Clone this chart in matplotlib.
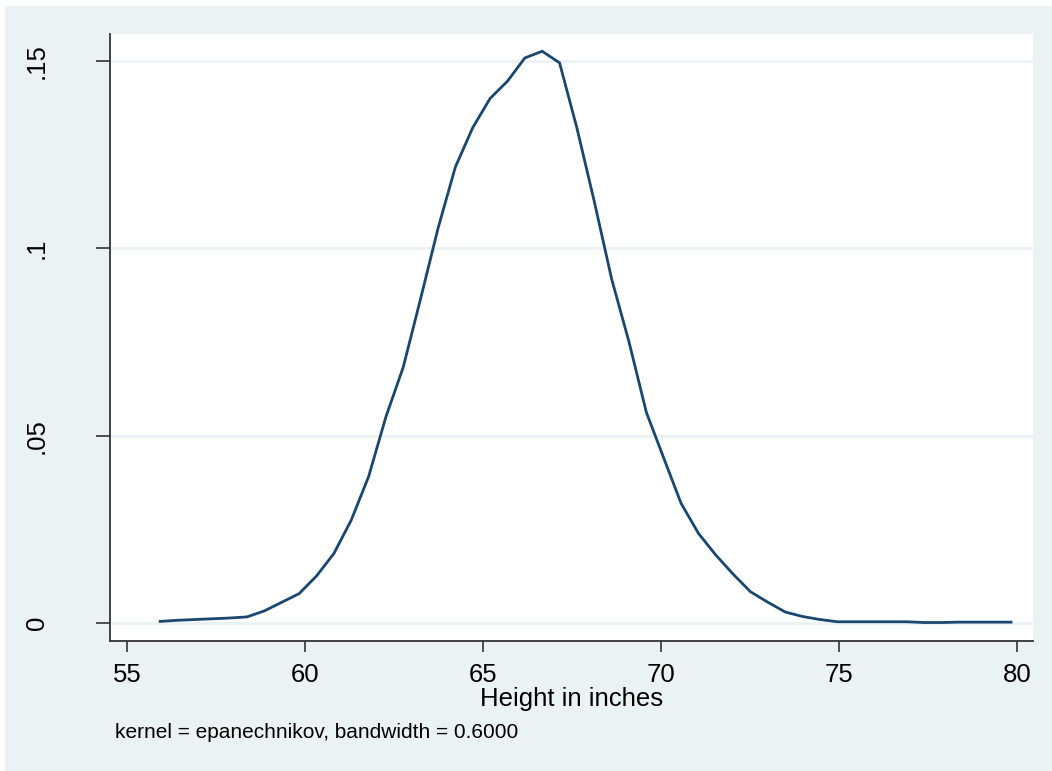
import numpy as np
import matplotlib.pyplot as plt
from matplotlib.patches import Rectangle

# kdensity of height, 50 evaluation points
x_start = 55.93
x_step = 0.4878
density = [
    0.0004, 0.0007, 0.0009, 0.0011, 0.0013, 0.0016, 0.0032, 0.0055, 0.0078, 0.0125,
    0.0185, 0.0274, 0.0390, 0.0550, 0.0683, 0.0866, 0.1053, 0.1217, 0.1322, 0.1400,
    0.1446, 0.1508, 0.1526, 0.1495, 0.1321, 0.1125, 0.0918, 0.0750, 0.0562, 0.0440,
    0.0319, 0.0239, 0.0181, 0.0130, 0.0083, 0.0055, 0.0029, 0.0017, 0.0009, 0.0003,
    0.0003, 0.0003, 0.0003, 0.0003, 0.0001, 0.0001, 0.0002, 0.0002, 0.0002, 0.0002,
]
height = x_start + x_step * np.arange(len(density))

xticks = [55, 60, 65, 70, 75, 80]
yticks = [0, 0.05, 0.1, 0.15]
ytick_labels = ["0", ".05", ".1", ".15"]
note = "kernel = epanechnikov, bandwidth = 0.6000"

bg = "#EAF2F3"
navy = "#1A476F"

plt.rcParams["font.family"] = ["Liberation Sans", "DejaVu Sans"]

W, H = 1052, 771
fig = plt.figure(figsize=(W / 100, H / 100), dpi=100, facecolor=bg)
# thin white strips at top and left, as in the exported graph
fig.patches.append(Rectangle((0, 1 - 6 / H), 1, 6 / H, transform=fig.transFigure,
                             facecolor="white", edgecolor="none", zorder=-10))
fig.patches.append(Rectangle((0, 0), 5 / W, 1, transform=fig.transFigure,
                             facecolor="white", edgecolor="none", zorder=-10))

left, right, top, bottom = 110, 1033, 34, 640.5
ax = fig.add_axes([left / W, 1 - bottom / H, (right - left) / W, (bottom - top) / H])
ax.set_facecolor("white")

ax.plot(height, density, color=navy, lw=2.0, solid_joinstyle="miter")

ax.set_xlim(54.52, 80.45)
ax.set_ylim(-0.0047, 0.1572)
ax.set_xticks(xticks)
ax.set_yticks(yticks)
ax.set_yticklabels(ytick_labels)

ax.grid(axis="y", color=bg, lw=2.0)
ax.set_axisbelow(True)

for s in ["top", "right"]:
    ax.spines[s].set_visible(False)
for s in ["left", "bottom"]:
    ax.spines[s].set_color("#333333")
    ax.spines[s].set_linewidth(1.3)

ax.tick_params(axis="x", length=8, width=1.2, color="#333333", labelsize=18.5, pad=8)
ax.tick_params(axis="y", length=10, width=1.2, color="#333333", labelsize=18.5,
               pad=34, labelrotation=90)
for lab in ax.get_yticklabels():
    lab.set_va("center")

ax.set_xlabel("Height in inches", fontsize=18.5, labelpad=0)
fig.text(115 / W, 1 - 733 / H, note, fontsize=15, va="center", ha="left")

fig.savefig("out.png", dpi=100, facecolor=fig.get_facecolor())
